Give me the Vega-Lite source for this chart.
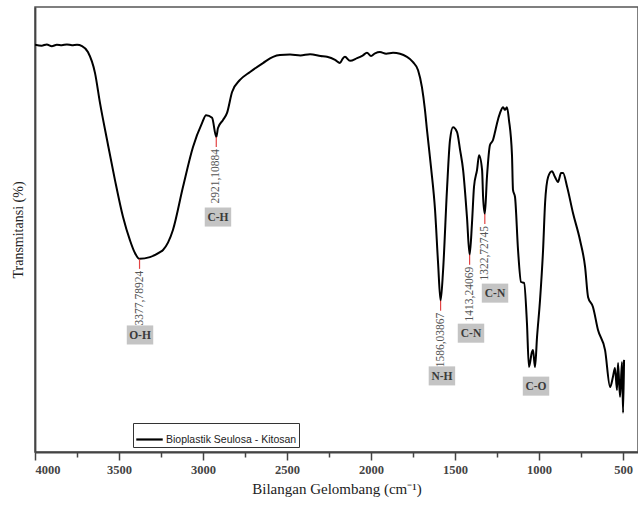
{
  "$schema": "https://vega.github.io/schema/vega-lite/v6.json",
  "width": 603,
  "height": 445,
  "autosize": {"type": "none"},
  "padding": {"left": 35, "top": 7, "right": 0, "bottom": 55},
  "background": "white",
  "config": {
    "view": {"stroke": "#555", "strokeWidth": 1.5},
    "legend": {
      "orient": "none", "legendX": 98, "legendY": 416,
      "strokeColor": "#333", "fillColor": "white", "padding": 2,
      "labelFont": "Liberation Sans", "labelFontSize": 10.5, "labelColor": "#222",
      "symbolType": "stroke", "symbolSize": 700, "symbolStrokeWidth": 2.2, "symbolStrokeColor": "black",
      "labelOffset": 2
    }
  },
  "datasets": {
    "spectrum": [
      {"wn": 4000, "t": 91.5}, {"wn": 3960, "t": 91.3}, {"wn": 3930, "t": 91.6}, {"wn": 3900, "t": 91.2},
      {"wn": 3870, "t": 91.5}, {"wn": 3840, "t": 91.4}, {"wn": 3810, "t": 91.6}, {"wn": 3780, "t": 91.4},
      {"wn": 3750, "t": 91.5}, {"wn": 3720, "t": 91.2}, {"wn": 3685, "t": 89.9}, {"wn": 3643, "t": 85.2},
      {"wn": 3613, "t": 78.4}, {"wn": 3571, "t": 70.1}, {"wn": 3524, "t": 61.1}, {"wn": 3476, "t": 52.8},
      {"wn": 3435, "t": 47.6}, {"wn": 3405, "t": 44.7}, {"wn": 3377.8, "t": 43.4}, {"wn": 3316, "t": 43.8},
      {"wn": 3256, "t": 44.9}, {"wn": 3238, "t": 45.4}, {"wn": 3179, "t": 49.9}, {"wn": 3119, "t": 59.6},
      {"wn": 3060, "t": 68.5}, {"wn": 3006, "t": 73.9}, {"wn": 2982, "t": 75.7}, {"wn": 2946, "t": 75.1},
      {"wn": 2921.1, "t": 70.8}, {"wn": 2911, "t": 72.8}, {"wn": 2881, "t": 74.6}, {"wn": 2857, "t": 76.2},
      {"wn": 2827, "t": 80.9}, {"wn": 2780, "t": 83.6}, {"wn": 2720, "t": 85.4}, {"wn": 2643, "t": 87.4},
      {"wn": 2583, "t": 88.8}, {"wn": 2542, "t": 89.2}, {"wn": 2482, "t": 89.3}, {"wn": 2420, "t": 89.1},
      {"wn": 2363, "t": 89.4}, {"wn": 2300, "t": 89.0}, {"wn": 2262, "t": 88.8}, {"wn": 2214, "t": 88.1},
      {"wn": 2185, "t": 87.4}, {"wn": 2170, "t": 88.3}, {"wn": 2155, "t": 88.8}, {"wn": 2125, "t": 87.9},
      {"wn": 2083, "t": 88.5}, {"wn": 2050, "t": 89.1}, {"wn": 2024, "t": 89.7}, {"wn": 2000, "t": 89.0},
      {"wn": 1976, "t": 89.6}, {"wn": 1947, "t": 89.9}, {"wn": 1910, "t": 89.5}, {"wn": 1869, "t": 89.7},
      {"wn": 1786, "t": 88.8}, {"wn": 1750, "t": 87.6}, {"wn": 1720, "t": 85.8}, {"wn": 1697, "t": 82.0},
      {"wn": 1679, "t": 76.9}, {"wn": 1667, "t": 72.4}, {"wn": 1643, "t": 64.0}, {"wn": 1619, "t": 54.4},
      {"wn": 1601, "t": 42.5}, {"wn": 1586.0, "t": 34.0}, {"wn": 1571, "t": 40.9}, {"wn": 1548, "t": 58.9},
      {"wn": 1530, "t": 70.1}, {"wn": 1512, "t": 73.0}, {"wn": 1488, "t": 71.9}, {"wn": 1470, "t": 67.9},
      {"wn": 1452, "t": 63.4}, {"wn": 1429, "t": 52.8}, {"wn": 1413.2, "t": 44.3}, {"wn": 1399, "t": 51.5},
      {"wn": 1387, "t": 59.6}, {"wn": 1369, "t": 63.4}, {"wn": 1357, "t": 66.7}, {"wn": 1339, "t": 63.4},
      {"wn": 1333, "t": 57.3}, {"wn": 1322.7, "t": 53.5}, {"wn": 1310, "t": 61.8}, {"wn": 1292, "t": 69.0},
      {"wn": 1274, "t": 70.1}, {"wn": 1262, "t": 71.9}, {"wn": 1250, "t": 73.9}, {"wn": 1232, "t": 76.2},
      {"wn": 1214, "t": 77.5}, {"wn": 1203, "t": 76.9}, {"wn": 1191, "t": 77.5}, {"wn": 1179, "t": 74.6},
      {"wn": 1161, "t": 66.7}, {"wn": 1155, "t": 58.9}, {"wn": 1143, "t": 57.3}, {"wn": 1125, "t": 45.4},
      {"wn": 1107, "t": 38.2}, {"wn": 1089, "t": 38.0}, {"wn": 1072, "t": 29.0}, {"wn": 1060, "t": 19.1},
      {"wn": 1042, "t": 22.5}, {"wn": 1036, "t": 22.9}, {"wn": 1024, "t": 19.1}, {"wn": 1012, "t": 25.8},
      {"wn": 994, "t": 34.2}, {"wn": 976, "t": 45.4}, {"wn": 964, "t": 56.0}, {"wn": 946, "t": 61.8},
      {"wn": 923, "t": 63.1}, {"wn": 905, "t": 61.8}, {"wn": 887, "t": 60.7}, {"wn": 869, "t": 62.7},
      {"wn": 857, "t": 62.7}, {"wn": 833, "t": 59.6}, {"wn": 798, "t": 53.7}, {"wn": 756, "t": 47.6},
      {"wn": 726, "t": 41.6}, {"wn": 708, "t": 34.8}, {"wn": 679, "t": 32.6}, {"wn": 649, "t": 27.4},
      {"wn": 607, "t": 22.9}, {"wn": 577, "t": 14.6}, {"wn": 560, "t": 16.9}, {"wn": 548, "t": 18.9},
      {"wn": 536, "t": 13.9}, {"wn": 530, "t": 20.0}, {"wn": 518, "t": 12.4}, {"wn": 506, "t": 20.2},
      {"wn": 500, "t": 8.8}, {"wn": 494, "t": 20.7}
    ],
    "peaks": [
      {"wn": 3377.78924, "t": 43.4, "label": "3377,78924"},
      {"wn": 2921.10884, "t": 70.8, "label": "2921,10884"},
      {"wn": 1586.03867, "t": 34.0, "label": "1586,03867"},
      {"wn": 1413.24069, "t": 44.3, "label": "1413,24069"},
      {"wn": 1322.72745, "t": 53.5, "label": "1322,72745"}
    ],
    "groups": [
      {"wn": 3375, "t": 26.3, "group": "O-H"},
      {"wn": 2911, "t": 52.8, "group": "C-H"},
      {"wn": 1578, "t": 17.1, "group": "N-H"},
      {"wn": 1405, "t": 26.7, "group": "C-N"},
      {"wn": 1262, "t": 35.7, "group": "C-N"},
      {"wn": 1018, "t": 14.8, "group": "C-O"}
    ]
  },
  "encoding": {
    "x": {
      "field": "wn", "type": "quantitative",
      "scale": {"domain": [4000, 411], "nice": false, "zero": false},
      "axis": {
        "title": "Bilangan Gelombang (cm⁻¹)",
        "values": [4000, 3750, 3500, 3250, 3000, 2750, 2500, 2250, 2000, 1750, 1500, 1250, 1000, 750, 500],
        "format": "d",
        "labelExpr": "datum.value % 500 === 0 ? datum.label : ''",
        "tickSize": {"condition": {"test": "datum.value % 500 === 0", "value": 8}, "value": 5},
        "tickColor": "#444", "tickWidth": 1.5,
        "domainColor": "#444", "domainWidth": 1.8,
        "grid": false,
        "labelFont": "Liberation Serif", "labelFontSize": 12.5, "labelFontWeight": "bold", "labelColor": "#444",
        "labelPadding": 3,
        "titleFont": "Liberation Serif", "titleFontSize": 15, "titleFontWeight": "normal", "titleColor": "#222",
        "titlePadding": 6
      }
    },
    "y": {
      "field": "t", "type": "quantitative",
      "scale": {"domain": [0, 100], "nice": false},
      "axis": {
        "title": "Transmitansi (%)", "ticks": false, "labels": false, "grid": false,
        "domainColor": "#444", "domainWidth": 1.8,
        "titleFont": "Liberation Serif", "titleFontSize": 14, "titleFontWeight": "normal", "titleColor": "#222",
        "titlePadding": 10
      }
    }
  },
  "layer": [
    {
      "data": {"name": "spectrum"},
      "transform": [{"calculate": "'Bioplastik Seulosa - Kitosan'", "as": "series"}],
      "mark": {"type": "line", "strokeWidth": 2, "strokeJoin": "round", "interpolate": "monotone", "clip": true},
      "encoding": {
        "color": {"field": "series", "type": "nominal", "scale": {"range": ["black"]}, "legend": {"title": null}}
      }
    },
    {
      "data": {"name": "peaks"},
      "mark": {"type": "point", "shape": "M0,0L0,1", "size": 400, "stroke": "#e03030", "strokeWidth": 1.2, "filled": false, "opacity": 0.9}
    },
    {
      "data": {"name": "peaks"},
      "mark": {"type": "text", "angle": 270, "align": "right", "baseline": "middle", "dx": -12, "font": "Liberation Serif", "fontSize": 11.5, "color": "#555"},
      "encoding": {"text": {"field": "label"}}
    },
    {
      "data": {"name": "groups"},
      "mark": {"type": "point", "shape": "M-1,-0.72H1V0.72H-1Z", "size": 700, "filled": true, "color": "#c4c4c4", "opacity": 1}
    },
    {
      "data": {"name": "groups"},
      "mark": {"type": "text", "align": "center", "baseline": "middle", "dy": 1, "font": "Liberation Serif", "fontSize": 11.5, "fontWeight": "bold", "color": "#3a3a3a"},
      "encoding": {"text": {"field": "group"}}
    }
  ]
}
